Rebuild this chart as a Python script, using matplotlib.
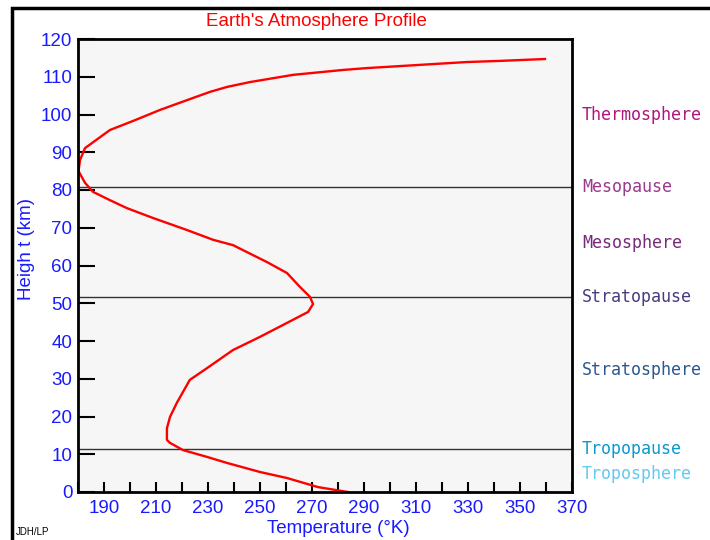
import matplotlib
matplotlib.use("Agg")
import matplotlib.pyplot as plt
from matplotlib.patches import Rectangle

# temperature profile (K) vs height (km)
temp_k = [283.8, 272.3, 260.4, 250.0, 237.3, 229.6, 220.4, 215.4, 214.2, 214.2,
          215.4, 218.0, 223.0, 229.6, 239.6, 250.0, 260.4, 268.5, 270.4, 269.2,
          265.4, 260.4, 252.7, 239.6, 232.0, 221.9, 208.8, 198.8, 192.3, 185.8,
          182.7, 180.2, 180.8, 182.7, 188.5, 192.3, 201.2, 211.5, 221.9, 230.8,
          237.3, 246.2, 262.7, 281.9, 291.2, 310.4, 329.6, 342.3, 359.6]
height_km = [0.0, 1.3, 3.7, 5.3, 7.7, 9.3, 11.1, 13.0, 13.8, 16.9,
             19.9, 23.6, 29.7, 32.8, 37.6, 41.1, 44.8, 47.7, 49.8, 51.7,
             54.3, 58.0, 60.9, 65.4, 66.8, 69.4, 72.6, 75.2, 77.3, 79.5,
             81.9, 85.0, 88.0, 91.1, 94.0, 95.9, 98.3, 101.2, 103.8, 106.0,
             107.3, 108.6, 110.5, 111.8, 112.3, 113.1, 113.9, 114.2, 114.7]

boundaries = [80.8, 51.7, 11.4]

layer_names = ["Thermosphere", "Mesopause", "Mesosphere", "Stratopause",
               "Stratosphere", "Tropopause", "Troposphere"]
layer_heights = [100.0, 80.8, 66.0, 51.7, 32.3, 11.4, 4.8]
layer_colors = ["#b0157a", "#9a3a8c", "#772a7a", "#4a3a80",
                "#2a5890", "#0a99d0", "#66c8ee"]

blue = "#1a1aff"

fig = plt.figure(figsize=(7.1, 5.4), dpi=100)
fig.patches.append(Rectangle((12 / 710, -0.1), 1.2, (540 - 8) / 540 + 0.1,
                             transform=fig.transFigure, fill=False,
                             edgecolor="black", linewidth=2.5))

ax = fig.add_axes([78 / 710, 48 / 540, 494 / 710, 453 / 540])
ax.set_facecolor("#f6f6f6")

for h in boundaries:
    ax.axhline(h, color="#333333", linewidth=1)

ax.plot(temp_k, height_km, color="red", linewidth=1.7)

ax.set_xlim(180, 370)
ax.set_ylim(0, 120)
ax.set_xticks(range(180, 371, 10), minor=True)
ax.set_xticks(range(190, 371, 20))
ax.set_yticks(range(0, 121, 10))

for s in ax.spines.values():
    s.set_linewidth(2)

ax.tick_params(axis="y", direction="in", length=12, width=1.5,
               labelcolor=blue, labelsize=13.5, pad=4)
ax.tick_params(axis="x", which="both", direction="in", length=7, width=1.5,
               labelcolor=blue, labelsize=13.5, pad=6)
for lab in ax.get_xticklabels() + ax.get_yticklabels():
    lab.set_fontfamily("Liberation Sans")

ax.set_xlabel("Temperature (°K)", color=blue, fontsize=13.5,
              family="Liberation Sans")
ax.xaxis.set_label_coords(0.526, -0.062)
ax.set_ylabel("Heigh t (km)", color=blue, fontsize=13.5,
              family="Liberation Sans")
ax.yaxis.set_label_coords(-0.087, 0.536)
fig.text(316 / 710, 1 - 22 / 540, "Earth's Atmosphere Profile", color="red",
         fontsize=13.5, family="Liberation Sans", ha="center", va="center")
fig.text(16 / 710, 1 - 532 / 540, "JDH/LP", fontsize=7,
         family="Liberation Sans", va="center")

for name, h, c in zip(layer_names, layer_heights, layer_colors):
    ax.text(1.02, h, name, color=c, fontsize=12, family="DejaVu Sans Mono",
            transform=ax.get_yaxis_transform(), va="center", ha="left")

fig.savefig("out.png", dpi=100)
